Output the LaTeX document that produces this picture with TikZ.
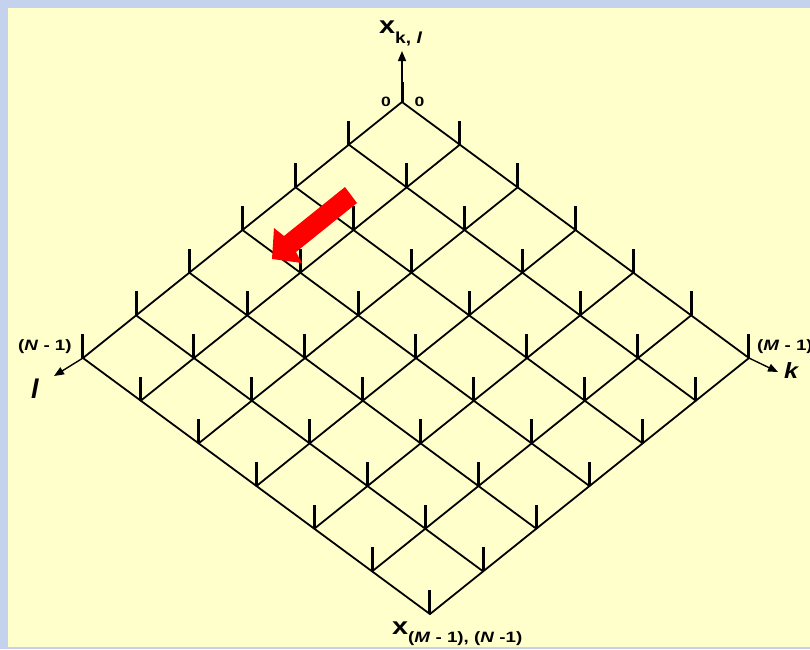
\documentclass[tikz,border=0pt]{standalone}
\usepackage{fontspec}
\setmainfont{Liberation Sans}
\usetikzlibrary{arrows.meta}
\definecolor{bgblue}{RGB}{196,210,238}
\definecolor{bgyellow}{RGB}{255,255,204}
\begin{document}
\begin{tikzpicture}[x=1pt,y=-1pt,
  gridline/.style={line width=1.8pt, line cap=round},
  tickline/.style={line width=3pt},
  axarrow/.style={line width=1.4pt, -{Triangle[length=10pt,width=8pt]}},
  lbl/.style={inner sep=0pt, font=\bfseries}]
\useasboundingbox (0,0) rectangle (810,649);
\fill[bgblue] (0,0) rectangle (810,649);
\fill[bgyellow] (8,8) rectangle (810,647);
% vertices
\foreach \i in {0,...,6}{
  \foreach \j in {0,...,6}{
    \coordinate (v-\i-\j) at ({402-53.17*\i+57.83*\j},{102+42.67*(\i+\j)});
  }
}
% grid lines
\foreach \i in {0,...,6}{
  \draw[gridline] (v-\i-0) -- (v-\i-6);
  \draw[gridline] (v-0-\i) -- (v-6-\i);
}
% ticks
\foreach \i in {0,...,6}{
  \foreach \j in {0,...,6}{
    \ifnum\i\j>0
      \draw[tickline] (v-\i-\j) -- ++(0,-24);
    \fi
  }
}
% top tick and axis arrow
\coordinate (ztop) at (402,51);
\coordinate (lend) at (54,376);
\coordinate (kend) at (778,372);
\draw[tickline] (v-0-0) -- ++(0,-20) coordinate (t0);
\draw[axarrow] (t0) -- (ztop);
\draw[axarrow] (v-6-0) -- (lend);
\draw[axarrow] (v-0-6) -- (kend);
% red arrow
\fill[red] (345,187) -- (357,203) -- (296,252) -- (302,263) -- (272,259) -- (274,228) -- (284,236) -- cycle;
% labels
\node[lbl, anchor=base west] (xtop) at (379,33) {\fontsize{24}{24}\selectfont\scalebox{1.2}[1]{x}\raisebox{-10pt}{\fontsize{16}{16}\selectfont\scalebox{1.2}[1]{k, \textit{l}}}};
\node[lbl, anchor=base west] (xbot) at (392,634) {\fontsize{24}{24}\selectfont\scalebox{1.2}[1]{x}\raisebox{-8pt}{\fontsize{15}{15}\selectfont\scalebox{1.25}[1]{(\textit{M} - 1), (\textit{N} -1)}}};
\node[lbl, anchor=base] (z1) at (386,106) {\fontsize{13.5}{13.5}\selectfont\scalebox{1.3}[1]{0}};
\node[lbl, anchor=base] (z2) at (419.5,106) {\fontsize{13.5}{13.5}\selectfont\scalebox{1.3}[1]{0}};
\node[lbl, anchor=base west] (nlab) at (18,350) {\fontsize{15}{15}\selectfont\scalebox{1.25}[1]{(\textit{N} - 1)}};
\node[lbl, anchor=base west] (mlab) at (757,350) {\fontsize{15}{15}\selectfont\scalebox{1.25}[1]{(\textit{M} - 1)}};
\node[lbl, anchor=base west] (llab) at (31,398) {\fontsize{27}{27}\selectfont\textit{l}};
\node[lbl, anchor=base west] (klab) at (784,378) {\fontsize{22}{22}\selectfont\scalebox{1.15}[1]{\textit{k}}};
\end{tikzpicture}
\end{document}
